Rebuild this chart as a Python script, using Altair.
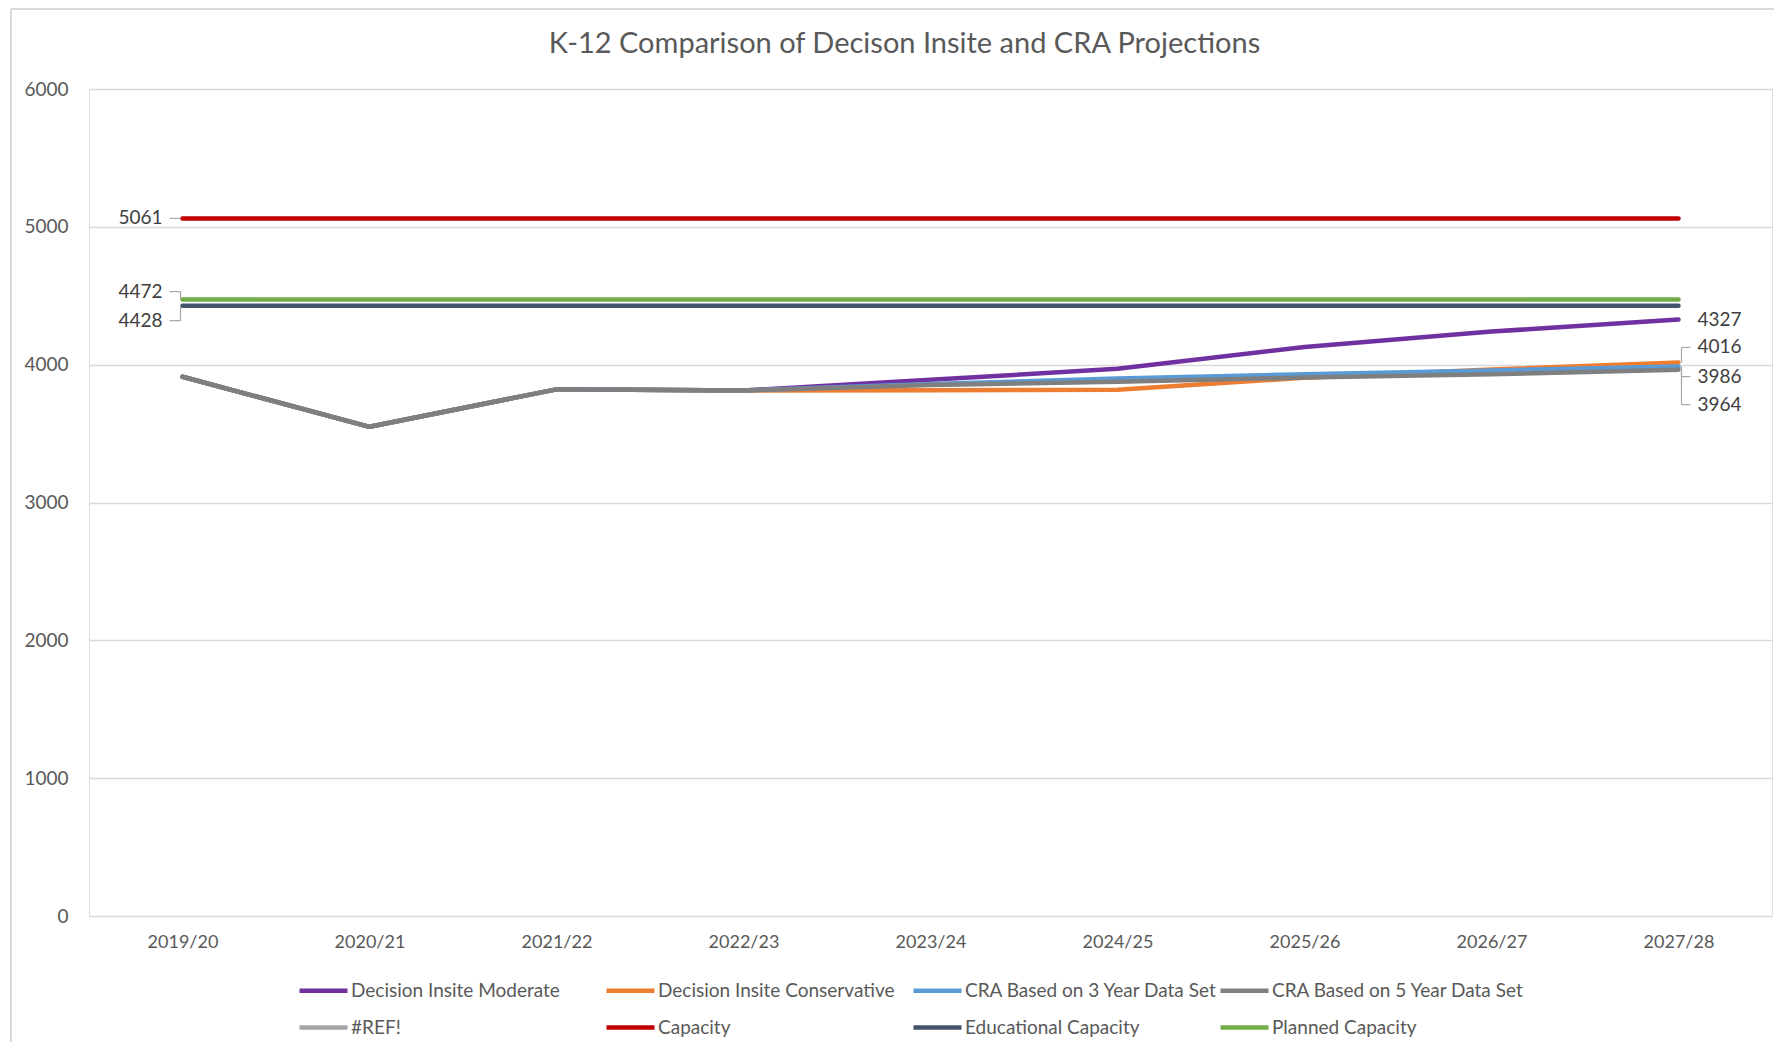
import altair as alt
import pandas as pd

# ---------------- data ----------------
years = ["2019/20", "2020/21", "2021/22", "2022/23", "2023/24",
         "2024/25", "2025/26", "2026/27", "2027/28"]

series_names = ["Decision Insite Moderate", "Decision Insite Conservative",
                "CRA Based on 3 Year Data Set", "CRA Based on 5 Year Data Set",
                "#REF!", "Capacity", "Educational Capacity", "Planned Capacity"]

moderate = [3912, 3549, 3821, 3813, 3890, 3970, 4128, 4240, 4327]
conservative = [3912, 3549, 3821, 3813, 3815, 3818, 3905, 3965, 4016]
cra3 = [3912, 3549, 3821, 3813, 3860, 3900, 3930, 3958, 3986]
cra5 = [3912, 3549, 3821, 3813, 3852, 3876, 3906, 3930, 3964]
capacity = [5061, 5061, 5061, 5061, 5061, 5061, 5061, 5061, 5061]
educational = [4428, 4428, 4428, 4428, 4428, 4428, 4428, 4428, 4428]
planned = [4472, 4472, 4472, 4472, 4472, 4472, 4472, 4472, 4472]

colors = ["#7030A0", "#ED7D31", "#5B9BD5", "#7F7F7F",
          "#A5A5A5", "#C00000", "#44546A", "#70AD47"]

y_ticks = [0, 1000, 2000, 3000, 4000, 5000, 6000]

# data labels: (series, year index) with style offsets (dy, side)
label_points = [
    ("Capacity", 0, 0, "left"),
    ("Planned Capacity", 0, -8, "left"),
    ("Educational Capacity", 0, 15, "left"),
    ("Decision Insite Moderate", 8, 0, "right"),
    ("Decision Insite Conservative", 8, -15, "right"),
    ("CRA Based on 3 Year Data Set", 8, 10, "right"),
    ("CRA Based on 5 Year Data Set", 8, 35, "right"),
]

# ---------------- build table ----------------
values_by_series = {
    "Decision Insite Moderate": moderate,
    "Decision Insite Conservative": conservative,
    "CRA Based on 3 Year Data Set": cra3,
    "CRA Based on 5 Year Data Set": cra5,
    "Capacity": capacity,
    "Educational Capacity": educational,
    "Planned Capacity": planned,
}
rows = []
for s in series_names:
    if s in values_by_series:
        for y, v in zip(years, values_by_series[s]):
            rows.append({"series": s, "year": y, "value": v})
df = pd.DataFrame(rows)

W, H = 1683, 827
FONT = "Lato"
TXT = "#595959"

x_enc = alt.X("year:N", sort=years,
              scale=alt.Scale(type="point", padding=0.5),
              axis=alt.Axis(title=None, labelAngle=0, ticks=False, domain=False,
                            grid=False, labelFontSize=18, labelColor=TXT,
                            labelFont=FONT, labelPadding=17))
y_enc = alt.Y("value:Q",
              scale=alt.Scale(domain=[0, 6000], nice=False, zero=True),
              axis=alt.Axis(title=None, values=y_ticks, ticks=False, domain=False,
                            grid=True, gridColor="#D9D9D9", gridWidth=1.5,
                            labelFontSize=19, labelColor=TXT, labelFont=FONT,
                            labelPadding=21, format="d"))

lines = alt.Chart(df).mark_line(strokeWidth=4.5, strokeCap="round",
                                strokeJoin="round").encode(
    x=x_enc,
    y=y_enc,
    color=alt.Color("series:N",
                    scale=alt.Scale(domain=series_names, range=colors),
                    legend=alt.Legend(orient="none", legendX=208, legendY=875,
                                      direction="horizontal", columns=4,
                                      gridAlign="all", title=None,
                                      symbolType="stroke", symbolStrokeWidth=4.5,
                                      symbolSize=2304, labelFontSize=19,
                                      labelFont=FONT, labelColor=TXT,
                                      labelOffset=1, columnPadding=-16,
                                      rowPadding=-9, labelLimit=400)),
    detail="series:N",
    order=alt.Order("year:N"),
)

layers = [lines]
LEAD = "#A6A6A6"
for s, idx, dy, side in label_points:
    sub = df[(df.series == s) & (df.year == years[idx])]
    base = alt.Chart(sub)
    if side == "left":
        txt = base.mark_text(align="right", baseline="middle", dx=-20, dy=dy,
                             fontSize=19, font=FONT, color="#404040").encode(
            x="year:N", y="value:Q", text=alt.Text("value:Q", format="d"))
        hx0, hx1, vx = -13, -2, -2
    else:
        txt = base.mark_text(align="left", baseline="middle", dx=19, dy=dy,
                             fontSize=19, font=FONT, color="#404040").encode(
            x="year:N", y="value:Q", text=alt.Text("value:Q", format="d"))
        hx0, hx1, vx = 3, 12, 3
    layers.append(txt)
    if side == "left" or dy != 0:
        if dy != 0:
            vert = base.mark_rule(color=LEAD, strokeWidth=1.2, xOffset=vx,
                                  y2Offset=dy).encode(
                x="year:N", y="value:Q", y2="value:Q")
            layers.append(vert)
        horiz = base.mark_rule(color=LEAD, strokeWidth=1.2, xOffset=hx0,
                               x2Offset=hx1, yOffset=dy).encode(
            x="year:N", x2="year:N", y="value:Q")
        layers.append(horiz)

# chart area frame (decoration)
frame_left = alt.Chart(df).mark_rule(color="#D9D9D9", strokeWidth=1.2).encode(
    x=alt.value(-78), y=alt.value(-80), y2=alt.value(H + 140))
frame_top = alt.Chart(df).mark_rule(color="#D9D9D9", strokeWidth=1.2).encode(
    x=alt.value(-78), x2=alt.value(W + 20), y=alt.value(-80))

chart = alt.layer(frame_left, frame_top, *layers).properties(
    width=W, height=H,
    title=alt.TitleParams("K-12 Comparison of Decison Insite and CRA Projections",
                          fontSize=29, font=FONT, color=TXT, fontWeight="normal",
                          anchor="middle", dx=-26, offset=-51),
    autosize=alt.AutoSizeParams(type="none"),
    padding={"left": 81, "top": 81, "right": 2, "bottom": 126},
).configure_view(stroke=None).configure(background="white")

chart.save("out.html", embed_options={"renderer": "svg", "actions": False})
